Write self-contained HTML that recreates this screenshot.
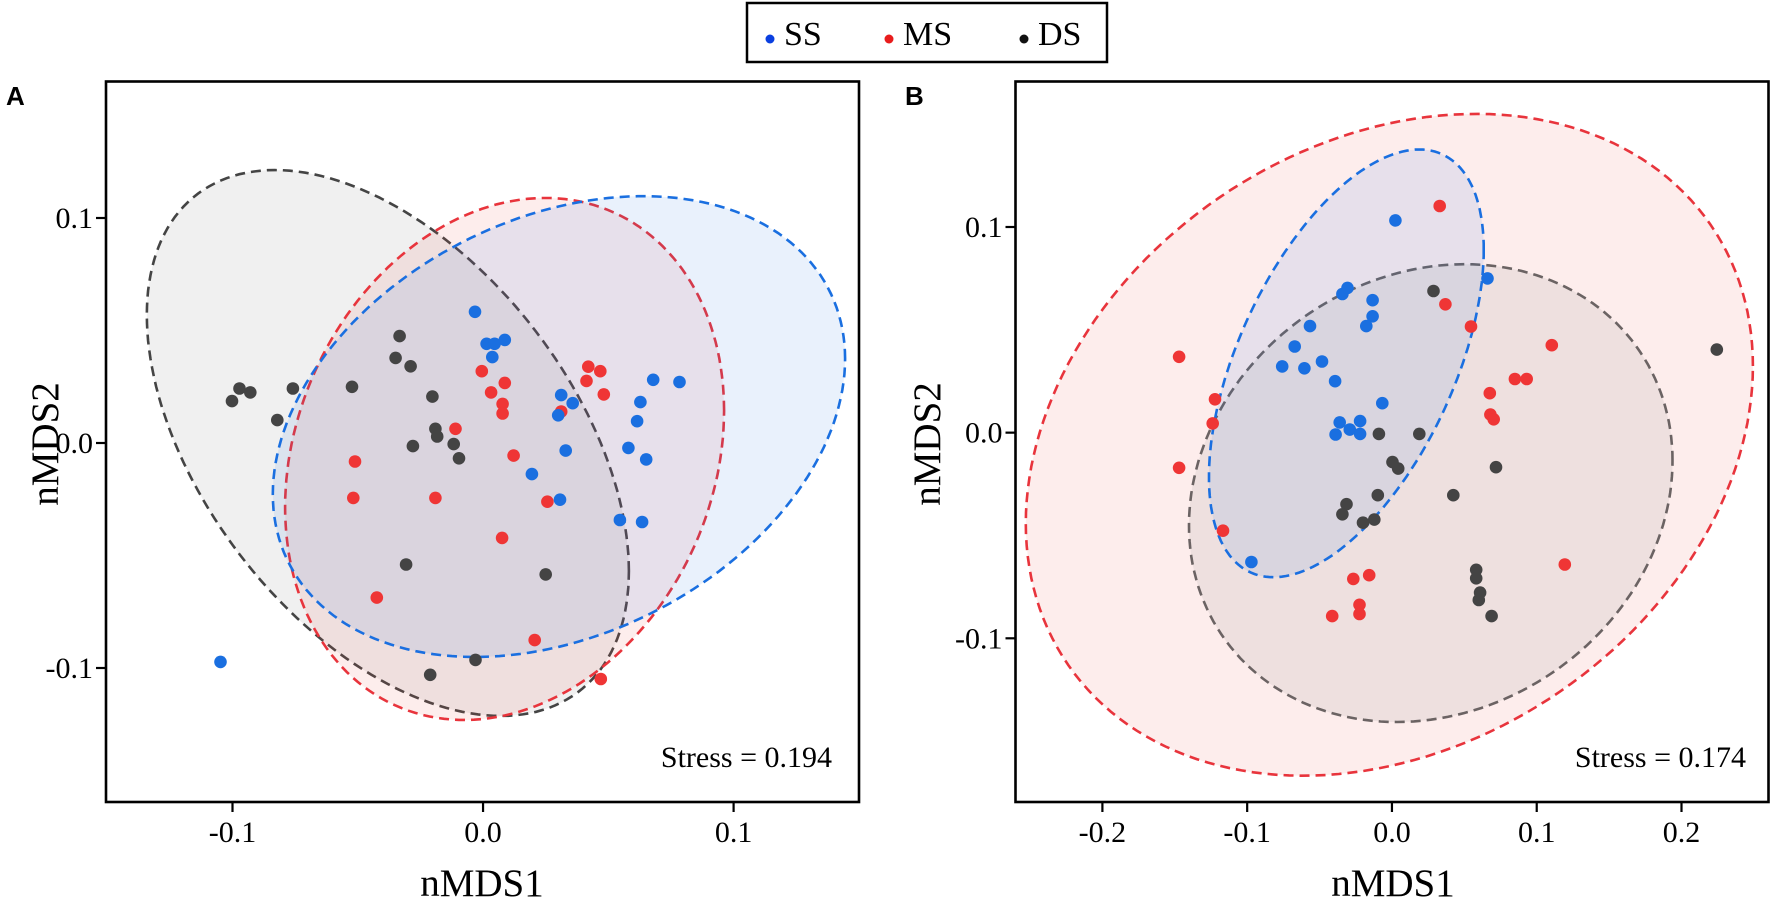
<!DOCTYPE html>
<html><head><meta charset="utf-8">
<style>
html,body{margin:0;padding:0;background:#fff;}
svg{display:block;font-family:"Liberation Serif",serif;}
</style></head>
<body>
<svg id="chart" width="1772" height="902" viewBox="0 0 1772 902">
  <g>
    <rect x="747" y="3" width="360" height="59" fill="#fff" stroke="#000" stroke-width="2.5"/>
    <g><circle cx="770" cy="39" r="4.5" fill="#0a3fe0"/><text x="784" y="45" font-size="34">SS</text></g>
    <g><circle cx="889" cy="39" r="4.5" fill="#e81c1c"/><text x="903" y="45" font-size="34">MS</text></g>
    <g><circle cx="1024" cy="39" r="4.5" fill="#111"/><text x="1038" y="45" font-size="34">DS</text></g>
  </g>
  <g id="panelA"></g>
  <g id="panelB"></g>
</svg>
<script>
// ---- Panel A data ----
const aSSx = [-0.0032,0.0014,0.0046,0.0087,0.0037,0.0312,0.0358,0.0300,0.0330,0.0195,0.0307,0.0679,0.0784,0.0628,0.0615,0.0580,0.0651,0.0546,0.0635,-0.1048];
const aSSy = [0.0583,0.0441,0.0441,0.0458,0.0382,0.0213,0.0177,0.0123,-0.0034,-0.0138,-0.0252,0.0281,0.0271,0.0182,0.0097,-0.0022,-0.0073,-0.0342,-0.0351,-0.0973];
const aMSx = [-0.0005,0.0087,0.0032,0.0078,0.0078,-0.0110,-0.0511,-0.0518,-0.0190,0.0122,0.0257,0.0312,0.0420,0.0468,0.0413,0.0482,0.0076,-0.0424,0.0206,0.0470];
const aMSy = [0.0319,0.0267,0.0225,0.0174,0.0131,0.0063,-0.0082,-0.0244,-0.0244,-0.0056,-0.0261,0.0140,0.0339,0.0319,0.0276,0.0216,-0.0422,-0.0687,-0.0876,-0.1049];
const aDSx = [-0.1002,-0.0972,-0.0929,-0.0759,-0.0821,-0.0523,-0.0333,-0.0349,-0.0289,-0.0202,-0.0190,-0.0183,-0.0280,-0.0117,-0.0096,-0.0307,0.0250,-0.0030,-0.0211];
const aDSy = [0.0186,0.0242,0.0225,0.0242,0.0102,0.0250,0.0475,0.0378,0.0341,0.0206,0.0063,0.0029,-0.0014,-0.0005,-0.0068,-0.0540,-0.0584,-0.0964,-0.1030];
// ellipses: [cx, cy, halfWidth, halfHeight, r]
const aEllDS = [-0.0380, 0.0000, 0.0962, 0.1213, -0.469];
const aEllMS = [0.0086, -0.0071, 0.0876, 0.1160, 0.185];
const aEllSS = [0.0303, 0.0073, 0.1142, 0.1024, 0.294];
const aXTicks = [-0.1, 0.0, 0.1];
const aXTickLabels = ["-0.1","0.0","0.1"];
const aYTicks = [0.1, 0.0, -0.1];
const aYTickLabels = ["0.1","0.0","-0.1"];

// ---- Panel B data ----
const bSSx = [0.0024,0.0660,-0.0342,-0.0307,-0.0134,-0.0134,-0.0177,-0.0566,-0.0672,-0.0758,-0.0605,-0.0483,-0.0393,-0.0067,-0.0361,-0.0220,-0.0389,-0.0291,-0.0220,-0.0971];
const bSSy = [0.1032,0.0750,0.0674,0.0704,0.0644,0.0566,0.0518,0.0518,0.0419,0.0322,0.0313,0.0346,0.0250,0.0143,0.0050,0.0056,-0.0009,0.0015,-0.0006,-0.0629];
const bMSx = [0.0330,0.0369,0.0546,0.1104,-0.1470,0.0849,0.0931,0.0676,0.0680,0.0703,-0.1222,-0.1238,-0.1470,-0.1167,0.1194,-0.0267,-0.0157,-0.0224,-0.0224,-0.0413];
const bMSy = [0.1102,0.0624,0.0516,0.0425,0.0369,0.0261,0.0261,0.0192,0.0088,0.0065,0.0162,0.0045,-0.0171,-0.0477,-0.0641,-0.0711,-0.0693,-0.0837,-0.0882,-0.0892];
const bDSx = [0.2244,0.0287,-0.0090,0.0189,0.0004,0.0043,0.0719,-0.0098,0.0424,-0.0314,-0.0342,-0.0200,-0.0122,0.0582,0.0582,0.0609,0.0600,0.0688];
const bDSy = [0.0404,0.0689,-0.0006,-0.0006,-0.0143,-0.0175,-0.0168,-0.0304,-0.0304,-0.0348,-0.0397,-0.0438,-0.0423,-0.0667,-0.0708,-0.0778,-0.0814,-0.0892];
const bEllDS = [0.0268, -0.0294, 0.1670, 0.1113, 0.141];
const bEllMS = [-0.0018, -0.0059, 0.2511, 0.1609, 0.238];
const bEllSS = [-0.0315, 0.0337, 0.0949, 0.1040, 0.531];
const bXTicks = [-0.2,-0.1,0.0,0.1,0.2];
const bXTickLabels = ["-0.2","-0.1","0.0","0.1","0.2"];
const bYTicks = [0.1, 0.0, -0.1];
const bYTickLabels = ["0.1","0.0","-0.1"];

const NS = "http://www.w3.org/2000/svg";
function mk(tag, attrs, parent){
  const e = document.createElementNS(NS, tag);
  for (const k in attrs) e.setAttribute(k, attrs[k]);
  parent.appendChild(e);
  return e;
}
function linScale(d0, d1, r0, r1){ return v => r0 + (v - d0) * (r1 - r0) / (d1 - d0); }

function drawPanel(g, cfg){
  const sx = cfg.sx, sy = cfg.sy;
  const cols = {SS:"#1a6fe0", MS:"#ef3535", DS:"#444444"};
  const fills = {SS:"rgba(40,120,230,0.10)", MS:"rgba(240,80,70,0.10)", DS:"rgba(120,120,120,0.11)"};
  // ellipses
  cfg.ells.forEach(([key, e]) => {
    const [cx, cy, W, H, r] = e;
    let d = "";
    for (let i = 0; i <= 180; i++){
      const t = i / 180 * 2 * Math.PI;
      const x = cx + W * Math.cos(t);
      const y = cy + H * (r * Math.cos(t) + Math.sqrt(1 - r*r) * Math.sin(t));
      d += (i ? "L" : "M") + sx(x).toFixed(1) + "," + sy(y).toFixed(1);
    }
    d += "Z";
    const p = mk("path", {d: d, fill: fills[key], stroke: cfg.strokes[key], "stroke-width": 2.6, "stroke-dasharray": "10 6"}, g);
    
    
  });
  // points
  cfg.series.forEach(([key, xs, ys]) => {
    const sg = mk("g", {}, g);
    
    
    xs.forEach((x, i) => {
      const c = mk("circle", {cx: sx(x).toFixed(1), cy: sy(ys[i]).toFixed(1), r: 6.3, fill: cols[key]}, sg);
      
      
    });
  });
  // frame
  const fr = mk("rect", {x: cfg.L, y: cfg.T, width: cfg.R - cfg.L, height: cfg.B - cfg.T, fill: "none", stroke: "#000", "stroke-width": 2.6}, g);
  
  
  // x ticks
  cfg.xTicks.forEach((v, i) => {
    const x = sx(v);
    const tk = mk("line", {x1: x, x2: x, y1: cfg.B, y2: cfg.B + 10, stroke: "#000", "stroke-width": 2.2}, g);
    
    
    const tl = mk("text", {x: x, y: 842, "text-anchor": "middle", "font-size": 30}, g);
    tl.textContent = cfg.xLabels[i];
    
    
  });
  cfg.yTicks.forEach((v, i) => {
    const y = sy(v);
    const tk = mk("line", {x1: cfg.L - 10, x2: cfg.L, y1: y, y2: y, stroke: "#000", "stroke-width": 2.2}, g);
    
    
    const tl = mk("text", {x: cfg.L - 13, y: y + 10, "text-anchor": "end", "font-size": 30}, g);
    tl.textContent = cfg.yLabels[i];
    
    
  });
  const xt = mk("text", {x: cfg.xTitleX, y: 896, "text-anchor": "middle", "font-size": 39}, g);
  xt.textContent = "nMDS1";
  
  
  const yt = mk("text", {x: 0, y: 0, "text-anchor": "middle", "font-size": 39, transform: "translate(" + cfg.yTitleX + "," + cfg.yTitleY + ") rotate(-90)"}, g);
  yt.textContent = "nMDS2";
  
  
  const st = mk("text", {x: cfg.stressX, y: 767, "text-anchor": "end", "font-size": 30}, g);
  st.textContent = cfg.stress;
  
  
  const pl = mk("text", {x: cfg.letterX, y: 105, "font-size": 26, "font-weight": "bold", "font-family": "Liberation Sans, sans-serif"}, g);
  pl.textContent = cfg.letter;
  
  
}

drawPanel(document.getElementById("panelA"), {
  sx: linScale(-0.1, 0.1, 232.5, 733.6),
  sy: linScale(0.1, -0.1, 218, 668),
  L: 106, R: 859, T: 81.5, B: 802,
  ells: [["DS", aEllDS], ["MS", aEllMS], ["SS", aEllSS]],
  strokes: {DS: "#444", MS: "#e8343c", SS: "#1a6fe0"},
  series: [["DS", aDSx, aDSy], ["MS", aMSx, aMSy], ["SS", aSSx, aSSy]],
  xTicks: aXTicks, xLabels: aXTickLabels, yTicks: aYTicks, yLabels: aYTickLabels,
  xTitleX: 482, yTitleX: 58, yTitleY: 444, stressX: 832, stress: "Stress = 0.194", letterX: 6, letter: "A"
});
drawPanel(document.getElementById("panelB"), {
  sx: linScale(-0.2, 0.2, 1102.4, 1681.5),
  sy: linScale(0.1, -0.1, 227, 638.3),
  L: 1015.5, R: 1768.5, T: 81.5, B: 802,
  ells: [["MS", bEllMS], ["DS", bEllDS], ["SS", bEllSS]],
  strokes: {DS: "#6b6363", MS: "#e8343c", SS: "#1a6fe0"},
  series: [["DS", bDSx, bDSy], ["MS", bMSx, bMSy], ["SS", bSSx, bSSy]],
  xTicks: bXTicks, xLabels: bXTickLabels, yTicks: bYTicks, yLabels: bYTickLabels,
  xTitleX: 1393, yTitleX: 940, yTitleY: 444, stressX: 1746, stress: "Stress = 0.174", letterX: 905, letter: "B"
});
</script>
</body></html>
